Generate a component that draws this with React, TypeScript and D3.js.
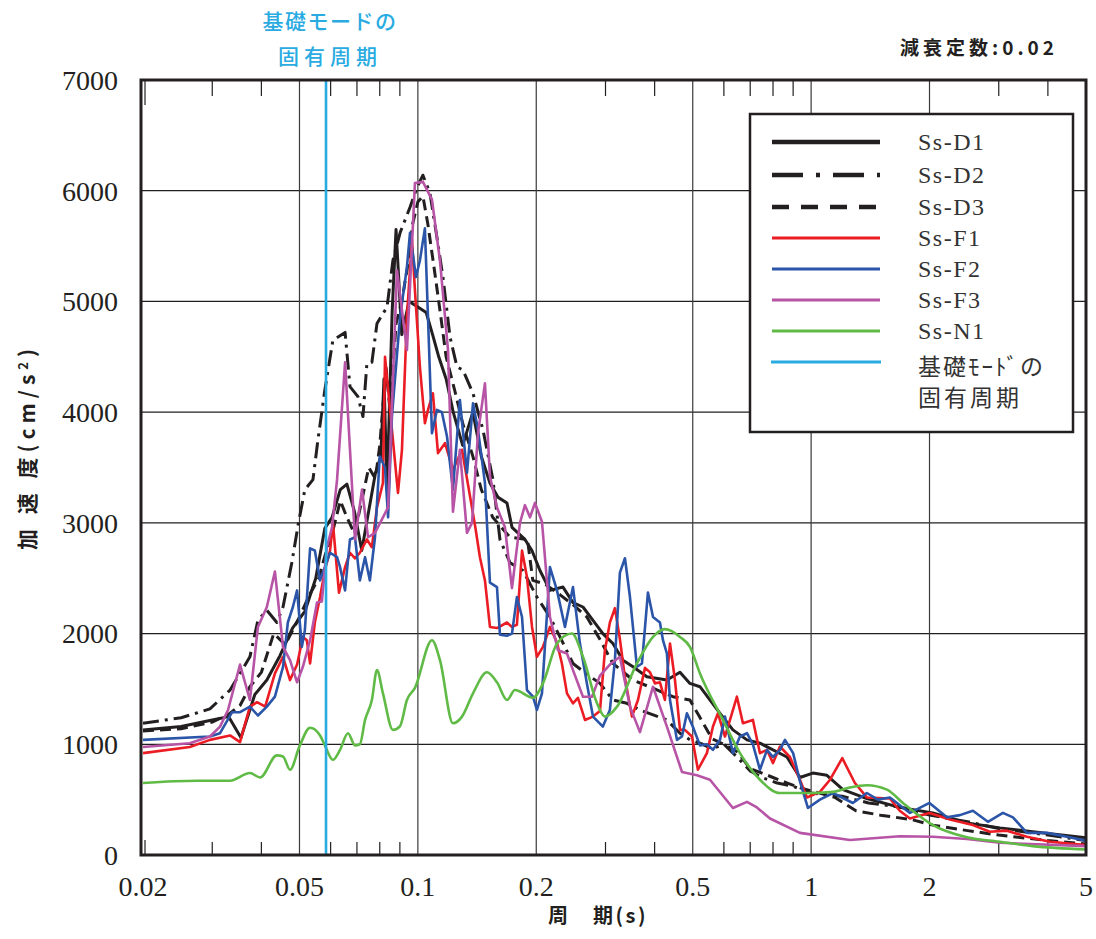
import React from 'react';
import * as d3 from 'd3';

type P = [number, number];

const yTickValues = [0, 1000, 2000, 3000, 4000, 5000, 6000, 7000];
const xTickLabels = [0.02, 0.05, 0.1, 0.2, 0.5, 1, 2, 5];
const xGridValues = [0.05, 0.1, 0.2, 0.5, 1, 2];
const xMinorValues = [0.03, 0.04, 0.06, 0.07, 0.08, 0.09, 0.3, 0.4, 0.6, 0.7, 0.8, 0.9, 3, 4];
const basePeriod = 0.0584;

const ssD1: P[] = [[0.02,1130],[0.025,1160],[0.03,1220],[0.033,1250],[0.0355,1060],[0.0385,1450],[0.0413,1580],[0.0446,1800],[0.048,2050],[0.0516,2200],[0.055,2500],[0.058,2950],[0.0605,3050],[0.0635,3300],[0.066,3350],[0.069,3100],[0.072,2750],[0.0745,3050],[0.078,3450],[0.0805,3600],[0.082,4300],[0.0835,3300],[0.086,4900],[0.088,5650],[0.091,4700],[0.095,5000],[0.1,4950],[0.105,4900],[0.109,4700],[0.113,4500],[0.118,4300],[0.123,4000],[0.13,3700],[0.138,4000],[0.145,3600],[0.1525,3360],[0.16,3230],[0.1685,3180],[0.1735,2960],[0.1872,2850],[0.195,2750],[0.2044,2570],[0.2167,2390],[0.2339,2420],[0.248,2280],[0.2629,2240],[0.2788,2120],[0.2954,2000],[0.3133,1910],[0.3322,1760],[0.3524,1700],[0.3823,1610],[0.4298,1580],[0.464,1650],[0.4918,1550],[0.5216,1520],[0.5864,1280],[0.6326,1130],[0.6868,1040],[0.741,1010],[0.868,885],[0.9366,700],[1.01,740],[1.097,720],[1.205,590],[1.386,510],[1.68,430],[2.04,380],[2.49,290],[3.02,245],[3.66,210],[5,155]];

const ssD2: P[] = [[0.02,1190],[0.025,1240],[0.0296,1320],[0.0333,1490],[0.0353,1640],[0.0374,1790],[0.0392,2120],[0.0413,2210],[0.0438,2100],[0.0454,2240],[0.0478,2640],[0.0497,3000],[0.0516,3300],[0.0541,3390],[0.0557,3750],[0.058,4200],[0.0608,4650],[0.0653,4720],[0.0672,4230],[0.0704,4140],[0.0725,3960],[0.0742,4440],[0.0764,4450],[0.0787,4800],[0.0835,4950],[0.0864,5370],[0.0901,5620],[0.0955,5850],[0.0995,6030],[0.103,6140],[0.1073,5980],[0.1118,5580],[0.1158,5220],[0.1207,4680],[0.1257,4410],[0.1302,4380],[0.1381,4170],[0.1464,3840],[0.1552,3390],[0.1617,2850],[0.1715,2640],[0.185,2570],[0.2008,2330],[0.2167,2150],[0.2298,1970],[0.248,1730],[0.265,1650],[0.2904,1550],[0.3133,1400],[0.34,1370],[0.367,1310],[0.4298,1220],[0.464,1100],[0.4918,1040],[0.53,1000],[0.56,960],[0.6,1000],[0.65,880],[0.7,760],[0.75,700],[0.82,650],[0.9,620],[1.0,560],[1.2,530],[1.4,470],[1.7,430],[2.0,360],[2.5,300],[3,240],[4,180],[5,130]];

const ssD3: P[] = [[0.02,1120],[0.025,1140],[0.03,1200],[0.0333,1280],[0.0353,1350],[0.0374,1520],[0.04,1650],[0.043,2000],[0.046,1900],[0.05,2150],[0.053,2350],[0.056,2500],[0.058,2700],[0.061,2950],[0.0635,3200],[0.066,3050],[0.069,2900],[0.072,3200],[0.075,3500],[0.078,3400],[0.08,3700],[0.083,4400],[0.085,4000],[0.088,4800],[0.091,5000],[0.094,5300],[0.097,5700],[0.1,5900],[0.103,5950],[0.106,5700],[0.11,5300],[0.114,4900],[0.118,4500],[0.124,4200],[0.13,3900],[0.138,3600],[0.145,3300],[0.155,3050],[0.1715,2870],[0.19,2850],[0.196,2480],[0.21,2450],[0.23,2350],[0.25,2250],[0.269,2150],[0.29,1950],[0.3133,1730],[0.3524,1580],[0.4,1500],[0.4454,1430],[0.4918,1400],[0.52,1250],[0.56,1050],[0.6,1000],[0.65,930],[0.7,780],[0.75,740],[0.8,700],[0.87,650],[0.95,600],[1.05,560],[1.15,520],[1.3,400],[1.5,360],[1.8,320],[2.04,270],[2.5,220],[3,180],[4,130],[5,100]];

const ssF1: P[] = [[0.02,920],[0.0263,975],[0.0296,1040],[0.0333,1080],[0.0353,1020],[0.0374,1340],[0.039,1380],[0.0409,1340],[0.0433,1640],[0.0454,1790],[0.0473,1580],[0.0493,1720],[0.051,1970],[0.0522,1940],[0.0532,1730],[0.0547,2100],[0.0564,2330],[0.058,2570],[0.0598,2750],[0.0608,3000],[0.063,2370],[0.0653,2600],[0.0672,2730],[0.0692,2680],[0.0712,2730],[0.0742,2850],[0.0764,2780],[0.0787,3140],[0.0815,3360],[0.0825,4500],[0.0864,3750],[0.089,3270],[0.0911,3660],[0.0938,4860],[0.0966,5560],[0.0983,5100],[0.1012,4410],[0.1042,3900],[0.1061,4020],[0.1092,4170],[0.1125,3630],[0.1172,3720],[0.1228,3480],[0.1295,3660],[0.1333,3400],[0.14,2960],[0.1438,2690],[0.1481,2480],[0.1525,2060],[0.1589,2050],[0.1685,2100],[0.1735,2060],[0.1786,2080],[0.184,2750],[0.1894,2510],[0.1951,2060],[0.2008,1790],[0.208,1880],[0.2167,2060],[0.2258,1920],[0.2324,1730],[0.2394,1460],[0.248,1370],[0.2553,1420],[0.266,1220],[0.2788,1250],[0.2904,1300],[0.299,1850],[0.3078,2100],[0.317,2230],[0.3264,1950],[0.3362,1600],[0.3502,1250],[0.3628,1400],[0.378,1690],[0.3892,1650],[0.4008,1550],[0.4126,1560],[0.4248,1400],[0.4376,1910],[0.4506,1580],[0.464,1130],[0.4776,1130],[0.4976,1070],[0.5154,770],[0.5432,920],[0.5628,1160],[0.5794,1280],[0.6038,1070],[0.629,1280],[0.6476,1430],[0.6708,1190],[0.7112,1220],[0.741,920],[0.7722,950],[0.8,830],[0.833,980],[0.8832,885],[0.9366,680],[0.9758,520],[1.053,570],[1.117,680],[1.2,875],[1.292,650],[1.386,520],[1.586,510],[1.68,400],[1.783,330],[2.0,380],[2.254,320],[2.578,270],[2.848,210],[3.146,220],[3.538,165],[4.048,120],[5,90]];

const ssF2: P[] = [[0.02,1040],[0.0296,1070],[0.0314,1100],[0.0337,1290],[0.0353,1290],[0.0374,1340],[0.0392,1260],[0.0413,1340],[0.0433,1430],[0.0454,1700],[0.0467,2100],[0.0481,2240],[0.0493,2390],[0.0507,1880],[0.0516,2030],[0.0532,2770],[0.0547,2750],[0.0564,2480],[0.058,2600],[0.0598,2730],[0.0623,2690],[0.0634,2600],[0.0653,2390],[0.0672,2850],[0.0692,2870],[0.0712,2480],[0.0734,2690],[0.0755,2480],[0.0778,2870],[0.08,3600],[0.0825,3500],[0.084,3050],[0.0859,3960],[0.0901,4860],[0.0938,5310],[0.0955,5620],[0.0989,5220],[0.1012,5370],[0.1042,5660],[0.1061,4860],[0.1086,3810],[0.1118,4020],[0.1151,4000],[0.1186,3780],[0.1228,3300],[0.1279,4110],[0.1333,3450],[0.1381,4080],[0.1422,3840],[0.1481,3360],[0.1525,2460],[0.1589,2420],[0.1617,1990],[0.1685,1980],[0.1735,2000],[0.1786,2330],[0.184,2150],[0.1894,1490],[0.1962,1430],[0.2008,1310],[0.2068,1460],[0.2167,2600],[0.2258,2390],[0.2366,2060],[0.248,2420],[0.2583,1910],[0.269,1550],[0.2788,1250],[0.2954,1160],[0.3078,1310],[0.317,1760],[0.3264,2550],[0.3362,2680],[0.3462,2330],[0.3606,1700],[0.3714,1730],[0.3846,2370],[0.3962,2150],[0.4126,2100],[0.42,1940],[0.4298,1820],[0.4376,1400],[0.4558,1040],[0.4694,1070],[0.4832,1280],[0.5,1160],[0.5216,990],[0.5432,1000],[0.5628,950],[0.5864,1040],[0.6038,1250],[0.6326,920],[0.6592,1070],[0.6868,1100],[0.7112,1000],[0.741,770],[0.7722,950],[0.8,885],[0.833,950],[0.858,1040],[0.9,920],[0.9366,665],[0.9814,425],[1.053,500],[1.136,560],[1.277,470],[1.386,560],[1.478,500],[1.586,520],[1.783,380],[2.0,470],[2.214,340],[2.39,360],[2.578,400],[2.816,300],[3.074,380],[3.26,340],[3.538,200],[3.978,200],[4.472,165],[5,130]];

const ssF3: P[] = [[0.02,975],[0.0263,1010],[0.0296,1070],[0.0314,1160],[0.0329,1310],[0.0353,1720],[0.0374,1400],[0.0392,2060],[0.0413,2240],[0.0433,2560],[0.0454,1880],[0.0473,1760],[0.0493,1560],[0.051,1700],[0.0532,1940],[0.0554,2280],[0.057,2290],[0.0587,2780],[0.0605,2960],[0.0623,3390],[0.0653,4450],[0.0672,3660],[0.0692,2850],[0.0721,3300],[0.0747,2870],[0.0778,2910],[0.084,3140],[0.0885,5280],[0.0938,4560],[0.0983,6070],[0.103,6080],[0.1086,5920],[0.1138,5370],[0.1193,4560],[0.1228,3100],[0.1279,3660],[0.1333,2910],[0.1373,3000],[0.1422,3810],[0.1481,4260],[0.1525,3420],[0.1589,3140],[0.1665,2960],[0.1735,2410],[0.1818,3000],[0.1872,3160],[0.1928,3050],[0.1985,3180],[0.2068,3010],[0.2167,2150],[0.2271,1850],[0.2394,1820],[0.248,1670],[0.2629,1430],[0.2772,1430],[0.2904,1620],[0.3078,1720],[0.3264,1790],[0.3462,1340],[0.367,1110],[0.3962,1520],[0.4298,1160],[0.4694,750],[0.5124,720],[0.553,680],[0.6326,425],[0.6868,480],[0.728,430],[0.7858,330],[0.9366,200],[1.255,135],[1.68,170],[2.04,165],[2.49,145],[3.02,110],[5,80]];

const ssN1: P[] = [[0.02,650],[0.0274,670],[0.0333,670],[0.0374,740],[0.0397,700],[0.0438,900],[0.0454,890],[0.0473,770],[0.0501,990],[0.0532,1150],[0.0564,1080],[0.058,990],[0.0608,860],[0.0634,950],[0.0664,1100],[0.0692,990],[0.0712,1000],[0.0734,1220],[0.0764,1400],[0.0787,1670],[0.0815,1460],[0.0864,1130],[0.0901,1165],[0.0938,1400],[0.0983,1510],[0.1086,1940],[0.1138,1760],[0.1228,1190],[0.1295,1250],[0.1381,1460],[0.1498,1650],[0.1589,1560],[0.1685,1400],[0.1765,1490],[0.1962,1420],[0.208,1550],[0.2258,1910],[0.2465,2000],[0.2629,1790],[0.2855,1370],[0.299,1250],[0.3209,1340],[0.3606,1730],[0.3962,1970],[0.4248,2040],[0.464,1970],[0.4918,1880],[0.5216,1640],[0.5966,1220],[0.6592,920],[0.741,680],[0.833,560],[1.01,560],[1.136,570],[1.255,610],[1.386,630],[1.559,590],[1.712,470],[2.04,270],[2.49,160],[3.02,120],[3.66,80],[5,50]];

const BLACK = '#231f20';
const CYAN = '#29abe2';

export default function App() {
  const left = 143, right = 1086, top = 80, bottom = 855;
  const x = d3.scaleLog().domain([0.02, 5]).range([left, right]);
  const y = d3.scaleLinear().domain([0, 7000]).range([bottom, top]);

  const series = [
    { name: 'Ss-D3', data: ssD3, color: BLACK, width: 3, dash: '11 6', lw: 4.5, ldash: '17 12', smooth: false },
    { name: 'Ss-D2', data: ssD2, color: BLACK, width: 3, dash: '16 6 3 6', lw: 4.5, ldash: '31 13 4 13', smooth: false },
    { name: 'Ss-D1', data: ssD1, color: BLACK, width: 3, dash: '', lw: 4.5, ldash: '', smooth: false },
    { name: 'Ss-F1', data: ssF1, color: '#ec1c24', width: 2.6, dash: '', lw: 3, ldash: '', smooth: false },
    { name: 'Ss-F2', data: ssF2, color: '#2b55a8', width: 2.6, dash: '', lw: 3, ldash: '', smooth: false },
    { name: 'Ss-F3', data: ssF3, color: '#b754a6', width: 2.6, dash: '', lw: 3, ldash: '', smooth: false },
    { name: 'Ss-N1', data: ssN1, color: '#60ba46', width: 2.6, dash: '', lw: 3, ldash: '', smooth: true },
  ];
  const legendOrder = ['Ss-D1', 'Ss-D2', 'Ss-D3', 'Ss-F1', 'Ss-F2', 'Ss-F3', 'Ss-N1'];
  const legendRows = [142, 175, 207, 238, 269, 300, 331];

  const mk = (smooth: boolean) =>
    d3.line<P>().x(d => x(d[0])).y(d => y(d[1])).curve(smooth ? d3.curveMonotoneX : d3.curveLinear);

  const serif = '"Liberation Serif", "DejaVu Serif", serif';
  const jp = '"Noto Sans CJK JP", "Noto Sans", sans-serif';

  return (
    <svg width={1096} height={939} style={{ position: 'absolute', left: 0, top: 0, background: '#fff' }}>
      <defs>
        <clipPath id="plotclip">
          <rect x={left - 2} y={top} width={right - left + 2} height={bottom - top} />
        </clipPath>
      </defs>
      <rect x={0} y={0} width={1096} height={939} fill="#fff" />

      {/* grid */}
      {yTickValues.map(v => (
        <line key={'gy' + v} x1={left - 2} x2={right} y1={y(v)} y2={y(v)} stroke={BLACK} strokeWidth={1.2} />
      ))}
      {xGridValues.map(v => (
        <line key={'gx' + v} x1={x(v)} x2={x(v)} y1={top} y2={bottom} stroke="#3a3a3a" strokeWidth={1.2} />
      ))}
      {xMinorValues.map(v => (
        <g key={'mt' + v}>
          <line x1={x(v)} x2={x(v)} y1={top} y2={top + 16} stroke={BLACK} strokeWidth={1.2} />
          <line x1={x(v)} x2={x(v)} y1={bottom} y2={bottom - 13} stroke={BLACK} strokeWidth={1.2} />
        </g>
      ))}
      <line x1={x(0.02) + 2} x2={x(0.02) + 2} y1={top} y2={top + 25} stroke={BLACK} strokeWidth={1.2} />
      <line x1={x(0.02) + 2} x2={x(0.02) + 2} y1={bottom} y2={bottom - 15} stroke={BLACK} strokeWidth={1.2} />

      {/* data */}
      <g clipPath="url(#plotclip)">
        {series.map(s => (
          <path key={s.name} d={mk(s.smooth)(s.data) || ''} fill="none" stroke={s.color}
            strokeWidth={s.width} strokeDasharray={s.dash || undefined} strokeLinejoin="round" />
        ))}
      </g>

      {/* fundamental period line */}
      <line x1={x(basePeriod)} x2={x(basePeriod)} y1={top} y2={bottom} stroke={CYAN} strokeWidth={2.6} />

      {/* frame */}
      <rect x={left - 2} y={top} width={right - left + 2} height={bottom - top} fill="none" stroke={BLACK} strokeWidth={3} />

      {/* y ticks */}
      {yTickValues.map(v => (
        <text key={'yt' + v} x={118} y={y(v)} dy="0.35em" textAnchor="end" fontFamily={serif} fontSize={28} fill={BLACK}>{v}</text>
      ))}
      {/* x ticks */}
      {xTickLabels.map(v => (
        <text key={'xt' + v} x={x(v)} y={886} dy="0.35em" textAnchor="middle" fontFamily={serif} fontSize={28} fill={BLACK}>{String(v)}</text>
      ))}

      {/* axis titles */}
      <text x={598} y={916} dy="0.35em" textAnchor="middle" fontFamily={jp} fontWeight={700} fontSize={20} letterSpacing={2.5} fill={BLACK}>
        周　期(s)
      </text>
      <text transform="translate(28,447) rotate(-90)" textAnchor="middle" dy="0.35em" fontFamily={jp} fontWeight={700} fontSize={21} letterSpacing={5} fill={BLACK}>
        加 速 度(cm/s<tspan dy="-7" fontSize={13}>2</tspan><tspan dy="7">)</tspan>
      </text>

      {/* damping */}
      <text x={1058} y={48} dy="0.35em" textAnchor="end" fontFamily={jp} fontWeight={700} fontSize={19} letterSpacing={4} fill={BLACK}>
        減衰定数:0.02
      </text>

      {/* cyan annotation */}
      <text x={330} y={22} dy="0.35em" textAnchor="middle" fontFamily={jp} fontWeight={500} fontSize={21} letterSpacing={1.5} fill={CYAN}>基礎モードの</text>
      <text x={330} y={57} dy="0.35em" textAnchor="middle" fontFamily={jp} fontWeight={500} fontSize={21} letterSpacing={5} fill={CYAN}>固有周期</text>

      {/* legend */}
      <rect x={750} y={114} width={323} height={318} fill="#fff" stroke={BLACK} strokeWidth={2.5} />
      {legendOrder.map((n, i) => {
        const s = series.find(q => q.name === n)!;
        const ly = legendRows[i];
        return (
          <g key={'lg' + n}>
            <line x1={772} x2={880} y1={ly} y2={ly} stroke={s.color} strokeWidth={s.lw} strokeDasharray={s.ldash || undefined} />
            <text x={918} y={ly} dy="0.35em" fontFamily={serif} fontSize={24} letterSpacing={1.5} fill="#333">{n}</text>
          </g>
        );
      })}
      <line x1={771} x2={881} y1={362} y2={362} stroke={CYAN} strokeWidth={3} />
      <text x={918} y={367} dy="0.35em" fontFamily={jp} fontSize={23} letterSpacing={2} fill="#333">基礎ﾓｰﾄﾞの</text>
      <text x={918} y={398} dy="0.35em" fontFamily={jp} fontSize={23} letterSpacing={3} fill="#333">固有周期</text>
    </svg>
  );
}
